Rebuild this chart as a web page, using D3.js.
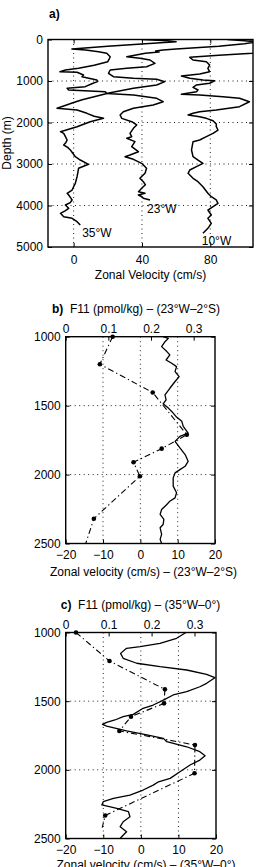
<!DOCTYPE html>
<html>
<head>
<meta charset="utf-8">
<script src="https://cdn.jsdelivr.net/npm/d3@7"></script>
<style>
  body { margin: 0; background: #fff; }
  svg { font-family: "Liberation Sans", Arial, Helvetica, sans-serif; }
  .tick text { font-size: 12px; fill: #000; }
  .tick line { stroke: #000; stroke-width: 1; }
  .grid line { stroke: #222; stroke-width: 1; stroke-dasharray: 1,3.5; }
  .box { fill: none; stroke: #000; stroke-width: 1.4; }
  .label { font-size: 12px; fill: #000; }
</style>
</head>
<body>
<svg id="fig" width="267" height="867"></svg>
<script>
// ---- panel a: zonal velocity profiles (cm/s) vs depth (m)
const stations = ["35°W", "23°W", "10°W"];
const stationOffset = [0, 40, 80];

const depth35W = [0,30,55,100,160,229,253,294,333,414,453,535,620,694,735,776,790,855,896,976,1016,1060,1137,1177,1217,1257,1300,1380,1450,1520,1590,1658,1699,1779,1850,1900,1981,2101,2221,2261,2340,2422,2480,2542,2600,2663,2740,2824,2904,3007,3104,3200,3306,3465,3547,3627,3706,3747,3827,3867,3930,3988,4068,4130,4188,4270,4309,4390,4470];
const vel35W   = [40,55,60,42,20,-1,7,14.6,19.4,21.4,21,20,12,2.9,-4.8,-8,2,5.8,4.9,13.6,14,11,6.8,-3.8,-2.9,18.5,19.5,12,5,0,-5,-9.7,2,7.8,12,17.5,9.7,2,-7.7,-5.8,-4.8,-3.8,-4.5,-5.8,-3.5,-1.9,-0.5,1,3.9,8.7,2.9,2.5,2,1,0,-0.9,-3.8,-2.9,-1.5,-0.9,-2,-4.8,-2.9,-5,-7.7,-5.8,-0.9,2,3.9];

const depth23W = [0,30,60,100,160,230,253,275,300,330,414,453,494,574,655,694,735,815,896,935,959,1016,1096,1176,1282,1300,1337,1417,1499,1578,1658,1740,1819,1900,1981,2060,2140,2261,2342,2381,2462,2583,2704,2783,2824,2887,2984,3104,3224,3345,3426,3500,3586,3667,3706,3747,3788,3827,3867];
const vel23W   = [50,60,68,60,45,20,12.4,8,10,2,-8.9,-1.2,4.7,7.6,2.7,-8.9,-18.6,-19.6,-16.7,-5,8.6,13.4,8.6,-5,-18.6,-20.5,-5,8.6,12.4,6.6,-5,-10.9,-12.8,-11.8,-6,-3.1,-5,-7,-6,-8.9,-4.1,-6,-2.1,-7,-9.9,-5,-0.2,2.7,1.8,-1.2,0.8,2,-0.2,-2,1.8,-2.1,0,0.8,4.7];

const depth10W = [0,150,250,333,380,429,494,535,614,694,776,831,880,935,976,993,1055,1096,1152,1217,1257,1320,1337,1378,1417,1499,1619,1699,1740,1779,1819,1860,1900,1957,2036,2101,2181,2261,2342,2422,2462,2663,2824,2904,2984,3065,3145,3224,3345,3426,3547,3706,3788,3867,3947,4028,4109,4229,4309,4429,4550,4670];
const vel10W   = [50,45,35,24.5,5,-12,-10.1,-2.3,-0.4,-1.4,-0.4,-6.2,-16.9,-12,-4.3,2.5,-0.4,-8.1,-10.1,-7.2,-8.1,-16.9,-6.2,7.4,17.1,22.9,17.1,3.5,-6.2,-10.1,-13,-6.2,-2.3,1.6,3.5,3.5,4.5,1.6,-2.3,-6.2,-10.1,-11,-10.1,-7.2,-4.3,-8.1,-12,-13,-10.1,-7.2,-4.3,-1.4,0.6,3.5,4.5,1.6,-1.4,0.6,-1.4,0.6,-1.4,-4.3];

const ticksVelA = [0, 40, 80];
const ticksDepthA = [0, 1000, 2000, 3000, 4000, 5000];

// ---- panel b: 23°W-2°S
const f11DepthB = [1000,1200,1405,1711,1812,1911,2012,2320,2500];
const f11B      = [0.110,0.080,0.204,0.284,0.225,0.159,0.174,0.066,0.047];
const f11DotsB  = 8; // last entry is the line end, no marker
const velDepthB = [1000,1012,1036,1072,1108,1132,1169,1193,1217,1253,1289,1325,1374,1422,1458,1487,1518,1542,1583,1614,1650,1699,1723,1759,1807,1855,1904,1940,1964,1988,2024,2084,2132,2169,2193,2217,2253,2289,2325,2362,2386,2434,2470,2500];
const velB      = [6.1,7.5,6.6,5.7,7.1,7.9,6.9,8.4,9.7,9.3,10.4,9.3,7.9,6.6,6.9,6.1,7.5,8.4,9.7,11.1,11.5,12.8,10.6,9.3,10.6,12,12.8,12,10.6,9.3,8.8,8.8,9.7,9.3,7.9,7.1,5.7,5.3,6.3,6.1,5.3,5.7,5.3,5.7];

// ---- panel c: 35°W-0°
const f11DepthC = [1000,1208,1414,1516,1613,1717,1819,2025,2332,2420];
const f11C      = [0.024,0.102,0.231,0.229,0.152,0.125,0.301,0.300,0.092,0.085];
const f11DotsC  = 9;
const velDepthC = [1000,1042,1079,1103,1115,1152,1188,1224,1249,1273,1305,1329,1370,1395,1431,1455,1492,1528,1552,1596,1613,1637,1654,1669,1681,1717,1746,1771,1795,1832,1868,1897,1929,1965,2014,2062,2087,2111,2147,2184,2208,2232,2256,2281,2305,2342,2378,2414,2451,2487,2500];
const velC      = [12,9.5,5.1,-0.2,-3.8,-5.4,-4.7,-1.1,5.1,12.2,17.5,19.7,17.5,15.7,12.2,8.6,6,3.3,0.6,-2,-4.7,-6.9,-9.1,-10.2,-9.1,-3.8,1.6,6,6.9,12.2,15.7,17.1,15.7,13.1,10.4,7.8,4.7,3.3,0.6,-2.9,-7.3,-10,-10.4,-6.4,-3.3,-2.9,-4.7,-5.5,-3.8,-5.1,-5.5];

const ticksVelBC = [-20, -10, 0, 10, 20];
const ticksF11 = [0, 0.1, 0.2, 0.3];
const ticksDepthBC = [1000, 1500, 2000, 2500];

const svg = d3.select("#fig");

function inwardAxis(g, axis, pad) {
    g.call(axis.tickSizeInner(-4).tickSizeOuter(0).tickPadding(pad));
    g.select(".domain").remove();
}

function grid(g, x, y, xs, ys) {
    const gg = g.append("g").attr("class", "grid");
    gg.selectAll(".gx").data(xs).enter().append("line")
        .attr("x1", d => x(d)).attr("x2", d => x(d))
        .attr("y1", y.range()[0]).attr("y2", y.range()[1]);
    gg.selectAll(".gy").data(ys).enter().append("line")
        .attr("y1", d => y(d)).attr("y2", d => y(d))
        .attr("x1", x.range()[0]).attr("x2", x.range()[1]);
}

function box(g, x, y) {
    g.append("rect").attr("class", "box")
        .attr("x", x.range()[0]).attr("y", y.range()[0])
        .attr("width", x.range()[1] - x.range()[0])
        .attr("height", y.range()[1] - y.range()[0]);
}

// ================= panel a
{
    const x = d3.scaleLinear().domain([-15, 105]).range([48, 253]);
    const y = d3.scaleLinear().domain([0, 5000]).range([39.5, 247]);
    const g = svg.append("g");

    svg.append("defs").append("clipPath").attr("id", "clipA")
        .append("rect").attr("x", 48).attr("y", 39.5).attr("width", 205).attr("height", 207.5);

    grid(g, x, y, ticksVelA, [1000, 2000, 3000, 4000]);

    const profiles = [[depth35W, vel35W], [depth23W, vel23W], [depth10W, vel10W]];
    const line = d3.line().x(d => x(d[1])).y(d => y(d[0]));
    profiles.forEach(([dep, vel], i) => {
        const pts = dep.map((d, j) => [d, vel[j] + stationOffset[i]]);
        g.append("path").datum(pts)
            .attr("clip-path", "url(#clipA)")
            .attr("fill", "none").attr("stroke", "#000").attr("stroke-width", 1.5)
            .attr("stroke-linejoin", "round")
            .attr("d", line);
    });

    inwardAxis(g.append("g").attr("transform", "translate(0,247)"),
        d3.axisBottom(x).tickValues(ticksVelA).tickFormat(d3.format("d")), 8);
    inwardAxis(g.append("g").attr("transform", "translate(0,39.5)"),
        d3.axisTop(x).tickValues(ticksVelA).tickFormat(""), 0);
    inwardAxis(g.append("g").attr("transform", "translate(48,0)"),
        d3.axisLeft(y).tickValues(ticksDepthA).tickFormat(d3.format("d")), 5);
    inwardAxis(g.append("g").attr("transform", "translate(253,0)"),
        d3.axisRight(y).tickValues(ticksDepthA).tickFormat(""), 0);
    box(g, x, y);

    const labelPos = [[5, 4760], [43, 4180], [75, 4955]];
    stations.forEach((s, i) => {
        g.append("text").attr("class", "label")
            .attr("x", x(labelPos[i][0])).attr("y", y(labelPos[i][1])).text(s);
    });

    svg.append("text").attr("class", "label").attr("font-weight", "bold")
        .attr("x", 49).attr("y", 18).text("a)");
    svg.append("text").attr("class", "label")
        .attr("transform", "translate(11,143) rotate(-90)")
        .attr("text-anchor", "middle").text("Depth (m)");
    svg.append("text").attr("class", "label").attr("text-anchor", "middle")
        .attr("x", 150.5).attr("y", 279).text("Zonal Velocity (cm/s)");
}

// ================= panels b and c
function tracerPanel(cfg) {
    const x = d3.scaleLinear().domain([-20, 20]).range(cfg.xr);
    const xf = d3.scaleLinear().domain([0, 0.35]).range(cfg.xr);
    const y = d3.scaleLinear().domain([1000, 2500]).range(cfg.yr);
    const g = svg.append("g");

    grid(g, x, y, [-10, 0, 10], [1500, 2000]);

    g.append("path").datum(cfg.velDepth.map((d, i) => [d, cfg.vel[i]]))
        .attr("fill", "none").attr("stroke", "#000").attr("stroke-width", 1.3)
        .attr("stroke-linejoin", "round")
        .attr("d", d3.line().x(d => x(d[1])).y(d => y(d[0])));

    const f = cfg.f11Depth.map((d, i) => [d, cfg.f11[i]]);
    g.append("path").datum(f)
        .attr("fill", "none").attr("stroke", "#000").attr("stroke-width", 1.1)
        .attr("stroke-dasharray", "6,3,1.3,3")
        .attr("d", d3.line().x(d => xf(d[1])).y(d => y(d[0])));
    g.selectAll(".dot").data(f.slice(0, cfg.nDots)).enter().append("circle")
        .attr("cx", d => xf(d[1])).attr("cy", d => y(d[0])).attr("r", 2.3).attr("fill", "#000");

    const [y0, y1] = cfg.yr;
    inwardAxis(g.append("g").attr("transform", `translate(0,${y1})`),
        d3.axisBottom(x).tickValues(ticksVelBC).tickFormat(d3.format("d")), 7);
    inwardAxis(g.append("g").attr("transform", `translate(0,${y0})`),
        d3.axisTop(xf).tickValues(ticksF11).tickFormat(d => d === 0 ? "0" : d3.format(".1f")(d)), 4);
    inwardAxis(g.append("g").attr("transform", `translate(${cfg.xr[0]},0)`),
        d3.axisLeft(y).tickValues(ticksDepthBC).tickFormat(d3.format("d")), 5);
    inwardAxis(g.append("g").attr("transform", `translate(${cfg.xr[1]},0)`),
        d3.axisRight(y).tickValues(ticksDepthBC).tickFormat(""), 0);
    box(g, x, y);

    const t = svg.append("text").attr("class", "label").attr("text-anchor", "middle")
        .attr("x", cfg.titleX).attr("y", cfg.titleY);
    t.append("tspan").attr("font-weight", "bold").text(cfg.tag);
    t.append("tspan").text("\u00a0\u00a0F11 (pmol/kg) – " + cfg.site);

    svg.append("text").attr("class", "label").attr("text-anchor", "middle")
        .attr("x", cfg.xlabX).attr("y", cfg.xlabY)
        .text("Zonal velocity (cm/s) – " + cfg.site);
}

tracerPanel({
    xr: [65.7, 215], yr: [336.7, 543.5],
    velDepth: velDepthB, vel: velB, f11Depth: f11DepthB, f11: f11B, nDots: f11DotsB,
    tag: "b)", site: "(23°W–2°S)", titleX: 136, titleY: 313, xlabX: 143.5, xlabY: 576
});
tracerPanel({
    xr: [65.7, 216], yr: [632.5, 838.5],
    velDepth: velDepthC, vel: velC, f11Depth: f11DepthC, f11: f11C, nDots: f11DotsC,
    tag: "c)", site: "(35°W–0°)", titleX: 140.5, titleY: 609, xlabX: 146, xlabY: 869
});
</script>
</body>
</html>
